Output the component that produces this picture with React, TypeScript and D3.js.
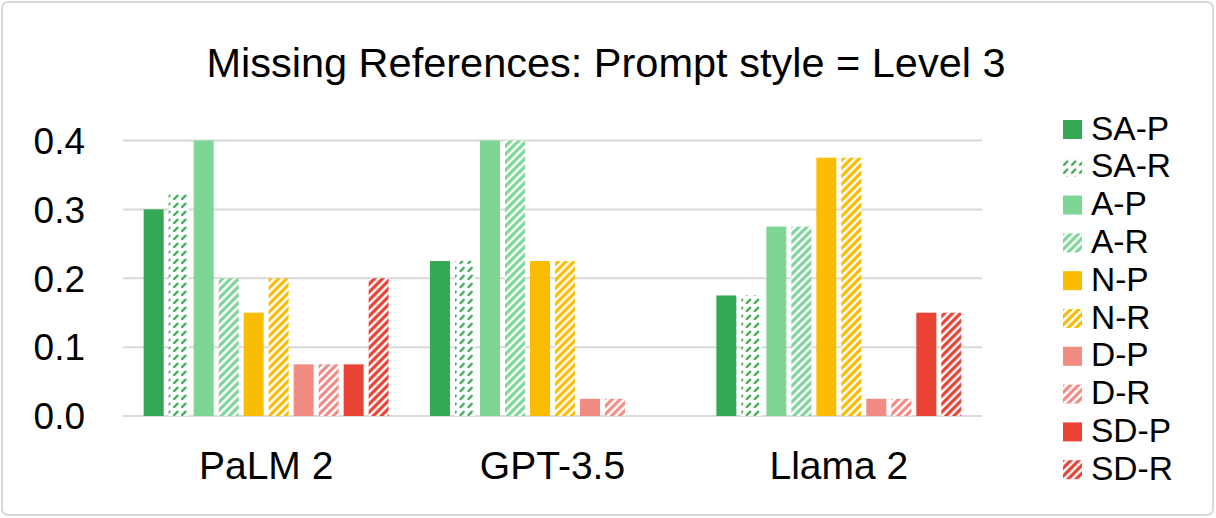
import React from 'react';
import * as d3 from 'd3';

// chart data
const categories = ['PaLM 2', 'GPT-3.5', 'Llama 2'];
const seriesNames = ['SA-P', 'SA-R', 'A-P', 'A-R', 'N-P', 'N-R', 'D-P', 'D-R', 'SD-P', 'SD-R'];
const palm2Values = [0.3, 0.325, 0.4, 0.2, 0.15, 0.2, 0.075, 0.075, 0.075, 0.2];
const gpt35Values = [0.225, 0.225, 0.4, 0.4, 0.225, 0.225, 0.025, 0.025, 0, 0];
const llama2Values = [0.175, 0.175, 0.275, 0.275, 0.375, 0.375, 0.025, 0.025, 0.15, 0.15];
const yTicks = [0, 0.1, 0.2, 0.3, 0.4];

const valuesByCategory = [palm2Values, gpt35Values, llama2Values];

// colours per series family, P = solid, R = hatched
const colors = ['#34A853', '#34A853', '#7DD695', '#7DD695', '#FBBC04', '#FBBC04', '#F28B82', '#F28B82', '#EA4335', '#EA4335'];

const W = 1216, H = 518;
const margin = {left: 123, right: 234, top: 140.5, bottom: 102};
const FONT = 'Liberation Sans, Arial, sans-serif';

const App = () => {
    const x0 = d3.scaleBand<string>()
        .domain(categories)
        .range([margin.left, W - margin.right])
        .paddingInner(0.127)
        .paddingOuter(0.0635);

    const x1 = d3.scaleBand<string>()
        .domain(seriesNames)
        .range([0, x0.bandwidth()])
        .paddingInner(0.2)
        .paddingOuter(0.1);

    const y = d3.scaleLinear()
        .domain([0, 0.4])
        .range([H - margin.bottom, margin.top]);

    const fill = (i: number) => (i % 2 === 0 ? colors[i] : 'url(#pat' + i + ')');

    return (
        <svg width={W} height={H} style={{position: 'absolute', left: 0, top: 0, background: '#fff'}}
             fontFamily={FONT}>
            <defs>
                {seriesNames.map((s, i) => i % 2 === 1 && (
                    <pattern key={s} id={'pat' + i} patternUnits="userSpaceOnUse" width={8} height={8}>
                        <rect width={8} height={8} fill="#fff"/>
                        {i === 1 ? (
                            // dashed upward diagonal
                            <path d="M0,8 L5,3" stroke={colors[i]} strokeWidth={2.2}/>
                        ) : (
                            // wide upward diagonal
                            <path d="M-2,2 L2,-2 M0,8 L8,0 M6,10 L10,6" stroke={colors[i]} strokeWidth={3.2}/>
                        )}
                    </pattern>
                ))}
            </defs>

            <rect x={2} y={2} width={W - 5} height={H - 5} rx={6} fill="#fff" stroke="#D9D9D9" strokeWidth={2}/>

            <text x={606} y={77} textAnchor="middle" fontSize={41.5}>
                Missing References: Prompt style = Level 3
            </text>

            {/* gridlines + y labels */}
            {yTicks.map(t => (
                <g key={t}>
                    <line x1={margin.left} x2={W - margin.right} y1={y(t)} y2={y(t)} stroke="#D9D9D9" strokeWidth={2}/>
                    <text x={85} y={y(t)} dy="0.36em" textAnchor="end" fontSize={37}>{t.toFixed(1)}</text>
                </g>
            ))}

            {/* bars */}
            {categories.map((c, ci) => (
                <g key={c} transform={'translate(' + x0(c) + ',0)'}>
                    {valuesByCategory[ci].map((v, si) => v > 0 && (
                        <rect key={si}
                              x={x1(seriesNames[si])}
                              y={y(v)}
                              width={x1.bandwidth()}
                              height={y(0) - y(v)}
                              fill={fill(si)}/>
                    ))}
                    <text x={x0.bandwidth() / 2} y={479} textAnchor="middle" fontSize={39}>{c}</text>
                </g>
            ))}

            {/* legend */}
            {seriesNames.map((s, i) => (
                <g key={s} transform={'translate(1063,' + (120 + i * 37.8) + ')'}>
                    <rect width={19} height={19} fill={fill(i)}/>
                    <text x={28} y={19.5} fontSize={33.5}>{s}</text>
                </g>
            ))}
        </svg>
    );
};

export default App;
